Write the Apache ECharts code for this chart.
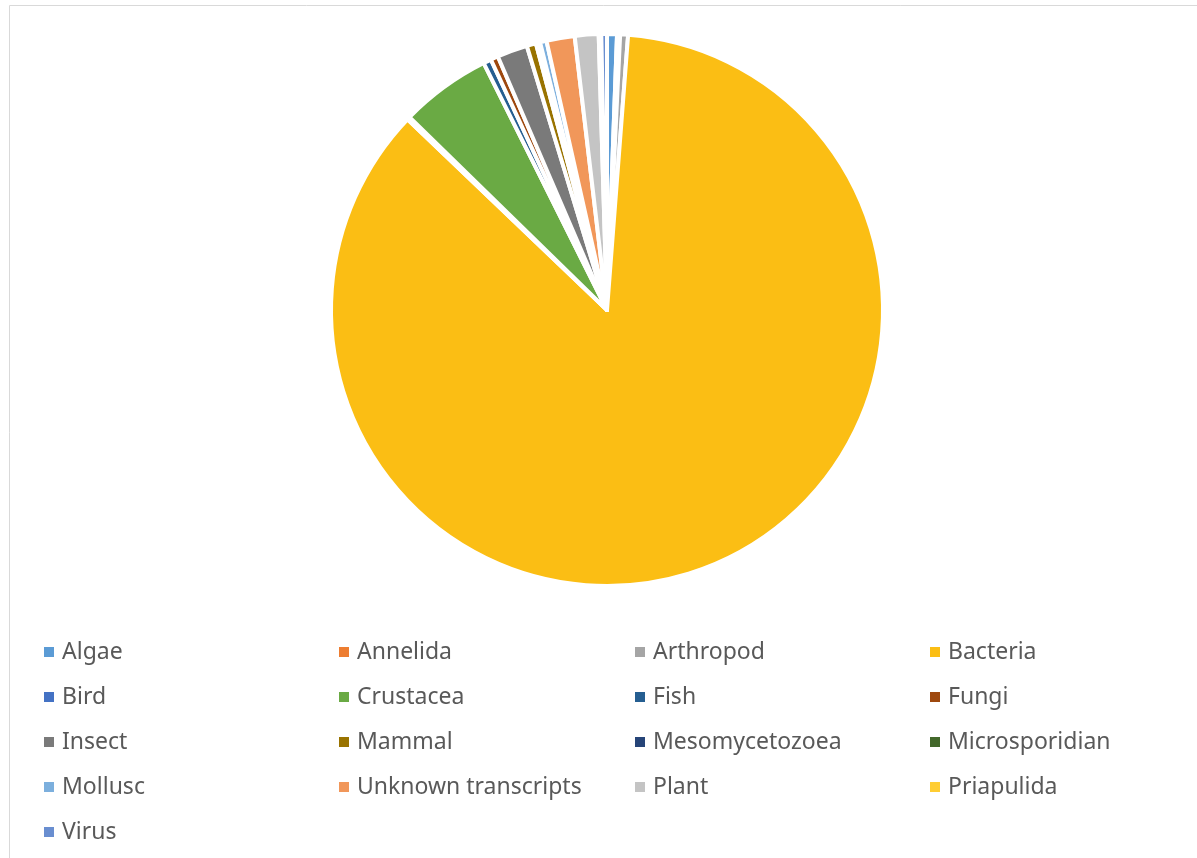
<!DOCTYPE html>
<html>
<head>
<meta charset="utf-8">
<script src="https://cdn.jsdelivr.net/npm/echarts@6/dist/echarts.min.js"></script>
<style>
  html, body { margin: 0; padding: 0; background: #fff; }
  #chart { width: 1197px; height: 858px; }
</style>
</head>
<body>
<div id="chart"></div>
<script>
// categories in legend / slice order (clockwise from 12 o'clock)
const categories = ['Algae', 'Annelida', 'Arthropod', 'Bacteria', 'Bird', 'Crustacea', 'Fish', 'Fungi',
  'Insect', 'Mammal', 'Mesomycetozoea', 'Microsporidian', 'Mollusc', 'Unknown transcripts', 'Plant',
  'Priapulida', 'Virus']
// share of transcripts, %
const shares = [0.58, 0.18, 0.46, 85.92, 0.17, 5.32, 0.46, 0.44,
  1.78, 0.54, 0.13, 0.12, 0.38, 1.65, 1.39,
  0.15, 0.33]
const colors = ['#5B9BD5', '#ED7D31', '#A5A5A5', '#FBBE14', '#4472C4', '#6AAA44', '#255E91', '#9E480E',
  '#7A7A7A', '#997300', '#264478', '#43682B', '#7CAFDD', '#F1975A', '#C4C4C4',
  '#FFCD33', '#698ED0']

// legend columns (Excel lays them out row by row, 4 per row)
const legendCols = [0, 1, 2, 3].map(c => categories.filter((_, i) => i % 4 === c))
const colLeft = [39, 334, 630, 925]

const chart = echarts.init(document.getElementById('chart'))

const option = {
  animation: false,
  color: colors,
  graphic: [{
    type: 'rect',
    shape: { x: 9.5, y: 5.5, width: 1250, height: 900 },
    style: { fill: 'none', stroke: '#D9D9D9', lineWidth: 1 },
    silent: true
  }],
  legend: legendCols.map((names, c) => ({
    orient: 'vertical',
    left: colLeft[c],
    top: 635,
    data: names,
    icon: 'rect',
    itemWidth: 10,
    itemHeight: 10,
    itemGap: 21,
    itemStyle: { borderWidth: 0 },
    textStyle: {
      fontFamily: 'Noto Sans',
      fontSize: 23,
      lineHeight: 24,
      color: '#595959',
      padding: [0, 0, 0, 3]
    },
    selectedMode: false
  })),
  series: [{
    type: 'pie',
    center: [607, 310],
    radius: [0, 276],
    startAngle: 90,
    clockwise: true,
    avoidLabelOverlap: false,
    label: { show: false },
    labelLine: { show: false },
    emphasis: { disabled: true },
    itemStyle: { borderColor: '#fff', borderWidth: 4 },
    data: categories.map((name, i) => ({ name: name, value: shares[i] }))
  }]
}

chart.setOption(option)
</script>
</body>
</html>
